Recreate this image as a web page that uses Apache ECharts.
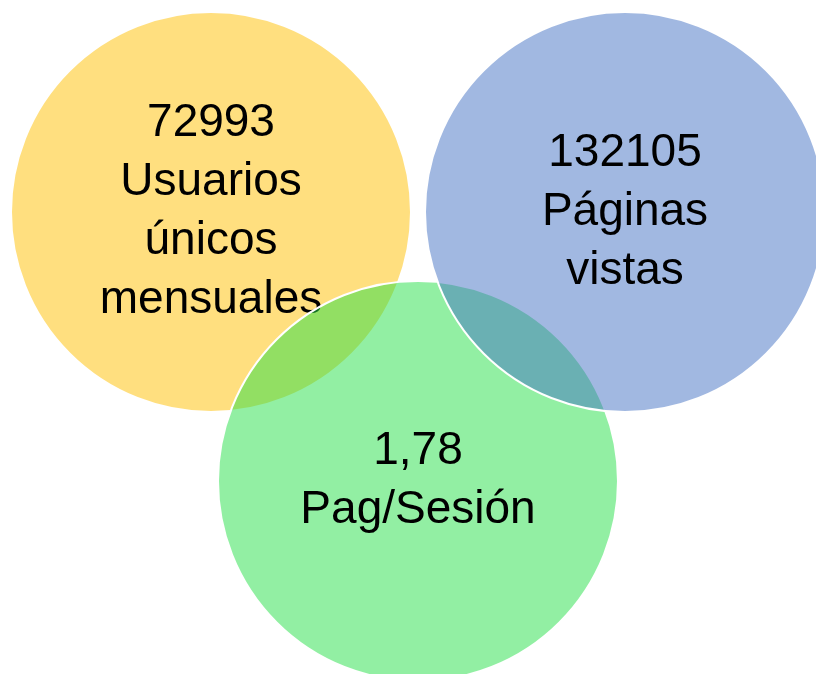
<!DOCTYPE html>
<html>
<head>
<meta charset="utf-8">
<script src="https://cdn.jsdelivr.net/npm/echarts@6/dist/echarts.min.js"></script>
<style>html,body{margin:0;padding:0;background:#fff;}#c{width:816px;height:674px;}</style>
</head>
<body>
<div id="c"></div>
<script>
// Draw order: yellow, green, blue (blue overlaps green, green overlaps yellow)
const values = ['72993', '1,78', '132105'];
const names = ['Usuarios\núnicos\nmensuales', 'Pag/Sesión', 'Páginas\nvistas'];
const centerX = [211, 418, 625];
const centerY = [212, 481, 212];
const radius = [200, 200, 200];
const colors = ['rgba(255,192,0,0.5)', 'rgba(37,223,71,0.5)', 'rgba(68,114,196,0.5)'];

const data = values.map((v, i) => [centerX[i], centerY[i], radius[i], i]);

const chart = echarts.init(document.getElementById('c'));
chart.setOption({
  animation: false,
  grid: { left: 0, right: 0, top: 0, bottom: 0 },
  xAxis: { type: 'value', min: 0, max: 816, show: false },
  yAxis: { type: 'value', min: 0, max: 674, inverse: true, show: false },
  series: [{
    type: 'custom',
    coordinateSystem: 'cartesian2d',
    data: data,
    renderItem: function (params, api) {
      const i = api.value(3);
      const c = api.coord([api.value(0), api.value(1)]);
      const r = api.size([api.value(2), 0])[0];
      return {
        type: 'group',
        children: [
          {
            type: 'circle',
            shape: { cx: c[0], cy: c[1], r: r },
            style: { fill: colors[i], stroke: '#ffffff', lineWidth: 2 }
          },
          {
            type: 'text',
            style: {
              text: values[i] + '\n' + names[i],
              x: c[0], y: c[1],
              fill: '#000000',
              fontSize: 46,
              fontFamily: 'Liberation Sans',
              align: 'center',
              verticalAlign: 'middle',
              lineHeight: 59
            }
          }
        ]
      };
    }
  }]
});
</script>
</body>
</html>
